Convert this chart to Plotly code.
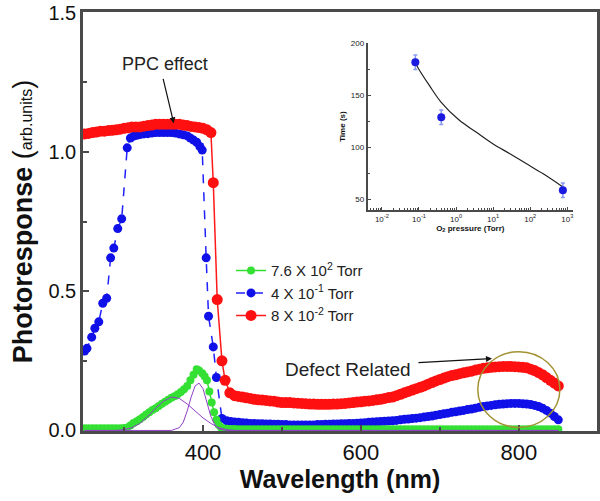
import plotly.graph_objects as go

# ---------------- main panel data ----------------
wl_red = [250, 255, 260, 265, 270, 275, 280, 285, 290, 295, 300, 305, 310, 315, 320, 325, 330,
          335, 340, 345, 350, 355, 360, 365, 370, 375, 380, 385, 390, 395, 400, 405, 410,
          413, 418, 424, 428, 434,
          440, 445, 450, 455, 460, 465, 470, 475, 480, 485, 490, 495, 500, 505, 510, 515, 520,
          525, 530, 535, 540, 545, 550, 555, 560, 565, 570, 575, 580, 585, 590, 595, 600, 605,
          610, 615, 620, 625, 630, 635, 640, 645, 650, 655, 660, 665, 670, 675, 680, 685, 690,
          695, 700, 705, 710, 715, 720, 725, 730, 735, 740, 745, 750, 755, 760, 765, 770, 775,
          780, 785, 790, 795, 800, 805, 810, 815, 820, 825, 830, 835, 840, 845, 850]
red = [1.065, 1.067, 1.07, 1.072, 1.075, 1.075, 1.077, 1.078, 1.08, 1.082, 1.085, 1.087, 1.09,
       1.09, 1.09, 1.093, 1.095, 1.097, 1.10, 1.10, 1.10, 1.10, 1.10, 1.10, 1.10, 1.097, 1.095,
       1.092, 1.09, 1.088, 1.085, 1.08, 1.07,
       0.89, 0.47, 0.25, 0.18, 0.135,
       0.125, 0.122, 0.12, 0.117, 0.115, 0.112, 0.11, 0.109, 0.108, 0.106, 0.105, 0.102, 0.10,
       0.10, 0.10, 0.099, 0.098, 0.097, 0.096, 0.095, 0.095, 0.094, 0.094, 0.094, 0.094, 0.095,
       0.095, 0.096, 0.097, 0.099, 0.10, 0.102, 0.103, 0.105, 0.106, 0.108, 0.11, 0.112, 0.115,
       0.118, 0.12, 0.125, 0.13, 0.135, 0.14, 0.145, 0.15, 0.155, 0.16, 0.166, 0.172, 0.178,
       0.183, 0.188, 0.193, 0.197, 0.20, 0.204, 0.207, 0.21, 0.213, 0.217, 0.22, 0.223, 0.225,
       0.227, 0.228, 0.229, 0.23, 0.23, 0.23, 0.229, 0.228, 0.227, 0.225, 0.22, 0.215, 0.208,
       0.20, 0.19, 0.18, 0.17, 0.16]

wl_blue = [250, 253, 259, 263, 268, 273, 278, 283, 287, 292, 297,
           304, 308, 312, 316, 320, 325, 330, 335, 340, 345, 350, 355, 360, 365, 370, 375, 380,
           384, 388, 392, 396, 399,
           404, 407, 413, 417, 424,
           430, 435, 440, 445, 450, 455, 460, 465, 470, 475, 480, 485, 490, 495, 500, 505, 510,
           515, 520, 525, 530, 535, 540, 545, 550, 555, 560, 565, 570, 575, 580, 585, 590, 595,
           600, 605, 610, 615, 620, 625, 630, 635, 640, 645, 650, 655, 660, 665, 670, 675, 680,
           685, 690, 695, 700, 705, 710, 715, 720, 725, 730, 735, 740, 745, 750, 755, 760, 765,
           770, 775, 780, 785, 790, 795, 800, 805, 810, 815, 820, 825, 830, 835, 840, 845, 850]
blue = [0.285, 0.295, 0.335, 0.367, 0.39, 0.457, 0.475, 0.62, 0.655, 0.725, 0.76,
        1.015, 1.05, 1.057, 1.06, 1.063, 1.065, 1.066, 1.068, 1.07, 1.07, 1.07, 1.07, 1.07,
        1.068, 1.065, 1.062, 1.058, 1.05, 1.043, 1.035, 1.02, 1.007,
        0.62, 0.41, 0.30, 0.19, 0.043,
        0.035, 0.032, 0.03, 0.029, 0.028, 0.027, 0.025, 0.025, 0.024, 0.024, 0.023, 0.023,
        0.022, 0.022, 0.021, 0.021, 0.02, 0.02, 0.02, 0.02, 0.02, 0.02, 0.02, 0.021, 0.021,
        0.022, 0.022, 0.023, 0.023, 0.024, 0.024, 0.025, 0.025, 0.026, 0.027, 0.028, 0.029,
        0.03, 0.031, 0.032, 0.033, 0.034, 0.035, 0.036, 0.038, 0.04, 0.041, 0.043, 0.044,
        0.046, 0.048, 0.05, 0.052, 0.055, 0.057, 0.06, 0.062, 0.065, 0.067, 0.07, 0.072, 0.075,
        0.077, 0.08, 0.083, 0.086, 0.088, 0.09, 0.092, 0.094, 0.095, 0.096, 0.097, 0.097,
        0.097, 0.096, 0.095, 0.093, 0.09, 0.086, 0.08, 0.072, 0.062, 0.05, 0.038]

wl_green = [250, 255, 260, 265, 270, 275, 280, 285, 290, 295,
            300, 304, 308, 312, 316, 320, 324, 328, 332, 336, 340, 344, 348, 352, 356, 360, 364,
            368, 372, 376, 380, 384, 388, 392, 395, 399, 402, 405, 408, 411, 414, 417, 420, 423,
            426, 430, 435, 440, 445, 450, 455, 460, 465, 470, 475, 480, 485, 490, 495, 500, 505,
            510, 515, 520, 525, 530, 535, 540, 545, 550, 555, 560, 565, 570, 575, 580, 585, 590,
            595, 600, 605, 610, 615, 620, 625, 630, 635, 640, 645, 650, 655, 660, 665, 670, 675,
            680, 685, 690, 695, 700, 705, 710, 715, 720, 725, 730, 735, 740, 745, 750, 755, 760,
            765, 770, 775, 780, 785, 790, 795, 800, 805, 810, 815, 820, 825, 830, 835, 840, 845,
            850]
green = [0.008, 0.008, 0.008, 0.008, 0.008, 0.008, 0.008, 0.008, 0.008, 0.008,
         0.009, 0.011, 0.018, 0.027, 0.033, 0.04, 0.048, 0.057, 0.065, 0.073, 0.08, 0.088,
         0.096, 0.103, 0.11, 0.117, 0.123, 0.13, 0.138, 0.148, 0.16, 0.18, 0.20, 0.22, 0.215,
         0.205, 0.195, 0.18, 0.14, 0.10, 0.065, 0.038, 0.02, 0.01, 0.007, 0.006,
         0.005, 0.005, 0.004, 0.004, 0.004, 0.004, 0.004, 0.004, 0.004, 0.004, 0.004, 0.004,
         0.004, 0.004, 0.004, 0.004, 0.004, 0.004, 0.004, 0.004, 0.004, 0.004, 0.004, 0.004,
         0.004, 0.004, 0.004, 0.004, 0.004, 0.004, 0.004, 0.004, 0.004, 0.004, 0.004, 0.004,
         0.004, 0.004, 0.004, 0.004, 0.004, 0.004, 0.004, 0.004, 0.004, 0.004, 0.004, 0.004,
         0.004, 0.004, 0.004, 0.004, 0.004, 0.004, 0.004, 0.004, 0.004, 0.004, 0.004, 0.004,
         0.004, 0.004, 0.004, 0.004, 0.004, 0.004, 0.004, 0.004, 0.004, 0.004, 0.004, 0.004,
         0.004, 0.004, 0.004, 0.004, 0.004, 0.004, 0.004, 0.004, 0.004, 0.004, 0.004, 0.004,
         0.004]

# Gaussian-like fit components (purple)
wl_fit1 = [250, 290, 300, 310, 320, 330, 340, 350, 360, 370, 380, 390, 400, 410, 420, 430, 440, 850]
fit1 = [0.0, 0.0, 0.003, 0.01, 0.025, 0.05, 0.08, 0.105, 0.12, 0.115, 0.095, 0.07, 0.045, 0.025,
        0.01, 0.003, 0.0, 0.0]
wl_fit2 = [250, 360, 370, 375, 380, 385, 390, 395, 400, 405, 410, 415, 420, 430, 850]
fit2 = [0.0, 0.0, 0.01, 0.03, 0.07, 0.12, 0.16, 0.17, 0.15, 0.10, 0.05, 0.02, 0.005, 0.0, 0.0]

legend_names = ["7.6 X 10<sup>2</sup> Torr", "4 X 10<sup>-1</sup> Torr", "8 X 10<sup>-2</sup> Torr"]

# ---------------- inset data ----------------
pressure = [0.08, 0.4, 760]
time_s = [182, 129, 58.7]
time_err = [7, 7, 7]
fit_p = [0.085, 0.0925, 0.191, 0.394, 1.233, 3.475, 9.795, 27.6, 77.8, 219.3, 760]
fit_t = [180, 177.2, 159.6, 143.6, 126, 114.7, 103.5, 94, 84.3, 74.7, 61.8]
inset_xticks = [0.01, 0.1, 1, 10, 100, 1000]
inset_xlabels = ["10<sup>-2</sup>", "10<sup>-1</sup>", "10<sup>0</sup>", "10<sup>1</sup>",
                 "10<sup>2</sup>", "10<sup>3</sup>"]

FONT = "Liberation Sans, Arial, sans-serif"
AX = "#4a4a4a"

fig = go.Figure()
fig.add_trace(go.Scatter(x=wl_blue, y=blue, mode="lines+markers", name=legend_names[1],
                         legendrank=2, legendgroup="b",
                         line=dict(color="#2020ff", width=1.5, dash="dash"),
                         marker=dict(size=9, color="#1010e8")))
fig.add_trace(go.Scatter(x=wl_red, y=red, mode="lines+markers", name=legend_names[2],
                         legendrank=3, legendgroup="r",
                         line=dict(color="#ff1a1a", width=1.5),
                         marker=dict(size=11, color="#ff1010")))
fig.add_trace(go.Scatter(x=wl_green, y=green, mode="lines+markers", name=legend_names[0],
                         legendrank=1, legendgroup="g",
                         line=dict(color="#30e030", width=1.5),
                         marker=dict(size=8, color="#33e033")))
fig.add_trace(go.Scatter(x=wl_fit1, y=fit1, mode="lines", showlegend=False,
                         line=dict(color="#9040c8", width=1)))
fig.add_trace(go.Scatter(x=wl_fit2, y=fit2, mode="lines", showlegend=False,
                         line=dict(color="#9040c8", width=1)))

# inset
fig.add_trace(go.Scatter(x=fit_p, y=fit_t, mode="lines", showlegend=False, xaxis="x2", yaxis="y2",
                         line=dict(color="#222222", width=1.2, shape="spline")))
fig.add_trace(go.Scatter(x=pressure, y=time_s, mode="markers", showlegend=False,
                         xaxis="x2", yaxis="y2",
                         marker=dict(size=8, color="#1a1ae0"),
                         error_y=dict(type="data", array=time_err, color="#8a9af0",
                                      thickness=1.5, width=2)))

fig.update_layout(
    width=600, height=501,
    margin=dict(l=83, r=3, t=12, b=70),
    paper_bgcolor="white", plot_bgcolor="white",
    font=dict(family=FONT, color="#111"),
    legend=dict(x=0.288, y=0.422, xanchor="left", yanchor="top",
                bgcolor="rgba(0,0,0,0)", font=dict(size=15, family=FONT, color="#222"),
                tracegroupgap=4, traceorder="normal"),
    xaxis=dict(range=[248, 899], showline=True, linecolor=AX, linewidth=2.5, mirror=True,
               automargin=False,
               ticks="inside", ticklen=6, tickwidth=1.5, tickcolor=AX,
               tickvals=[400, 600, 800], showgrid=False, zeroline=False,
               minor=dict(tickvals=[300, 500, 700], ticks="inside", ticklen=4, tickcolor=AX),
               tickfont=dict(size=22, family=FONT, color="#111"),
               title=dict(text="<b>Wavelength (nm)</b>", font=dict(size=25, family=FONT),
                          standoff=6)),
    yaxis=dict(range=[-0.002, 1.503], showline=True, linecolor=AX, linewidth=2.5, mirror=True,
               automargin=False,
               ticks="inside", ticklen=6, tickwidth=1.5, tickcolor=AX,
               tickvals=[0, 0.5, 1.0, 1.5], ticktext=["0.0", "0.5", "1.0", "1.5"],
               showgrid=False, zeroline=False,
               minor=dict(tickvals=[0.25, 0.75, 1.25], ticks="inside", ticklen=4, tickcolor=AX),
               tickfont=dict(size=20, family=FONT, color="#111"),
               title=dict(text="<b>Photoresponse </b><span style='font-size:27px'>(</span>"
                               "<span style='font-size:16px'>arb.units</span>"
                               "<span style='font-size:27px'>)</span>",
                          font=dict(size=27, family=FONT), standoff=8)),
    xaxis2=dict(type="log", range=[-2.38, 3.15], domain=[0.554, 0.953], anchor="y2",
                automargin=False,
                showline=True, linecolor=AX, linewidth=2, showgrid=False, zeroline=False,
                ticks="inside", ticklen=3, tickcolor=AX,
                tickvals=inset_xticks, ticktext=inset_xlabels,
                minor=dict(ticks="inside", ticklen=2, dtick="D1", tickcolor=AX),
                tickfont=dict(size=8, family=FONT, color="#222"),
                title=dict(text="<b>O<sub>2</sub> pressure (Torr)</b>",
                           font=dict(size=8, family=FONT), standoff=2)),
    yaxis2=dict(range=[39.4, 200.5], domain=[0.527, 0.926], anchor="x2",
                automargin=False,
                showline=True, linecolor=AX, linewidth=2, showgrid=False, zeroline=False,
                ticks="inside", ticklen=3, tickcolor=AX, tickvals=[50, 100, 150, 200],
                minor=dict(tickvals=[75, 125, 175], ticks="inside", ticklen=2, tickcolor=AX),
                tickfont=dict(size=8, family=FONT, color="#222"),
                title=dict(text="<b>Time (s)</b>", font=dict(size=8, family=FONT), standoff=4)),
)

# circle around defect-related band
fig.add_shape(type="circle", xref="x", yref="y", x0=748, x1=852, y0=0.011, y1=0.283,
              line=dict(color="#a39233", width=1.5))

# annotations
fig.add_annotation(x=363, y=1.103, xref="x", yref="y", ax=-11, ay=-46, text="",
                   showarrow=True, arrowhead=2, arrowsize=1, arrowwidth=1.2, arrowcolor="#111")
fig.add_annotation(x=352, y=1.316, xref="x", yref="y", text="PPC effect", showarrow=False,
                   font=dict(size=18, family=FONT, color="#222"))
fig.add_annotation(x=766, y=0.258, xref="x", yref="y", ax=-75, ay=4, text="",
                   showarrow=True, arrowhead=2, arrowsize=1, arrowwidth=1.2, arrowcolor="#111")
fig.add_annotation(x=583, y=0.219, xref="x", yref="y", text="Defect Related", showarrow=False,
                   font=dict(size=19, family=FONT, color="#222"))

fig.write_html("out.html", config={"displayModeBar": False},
               post_script="document.body.style.margin='0';")
